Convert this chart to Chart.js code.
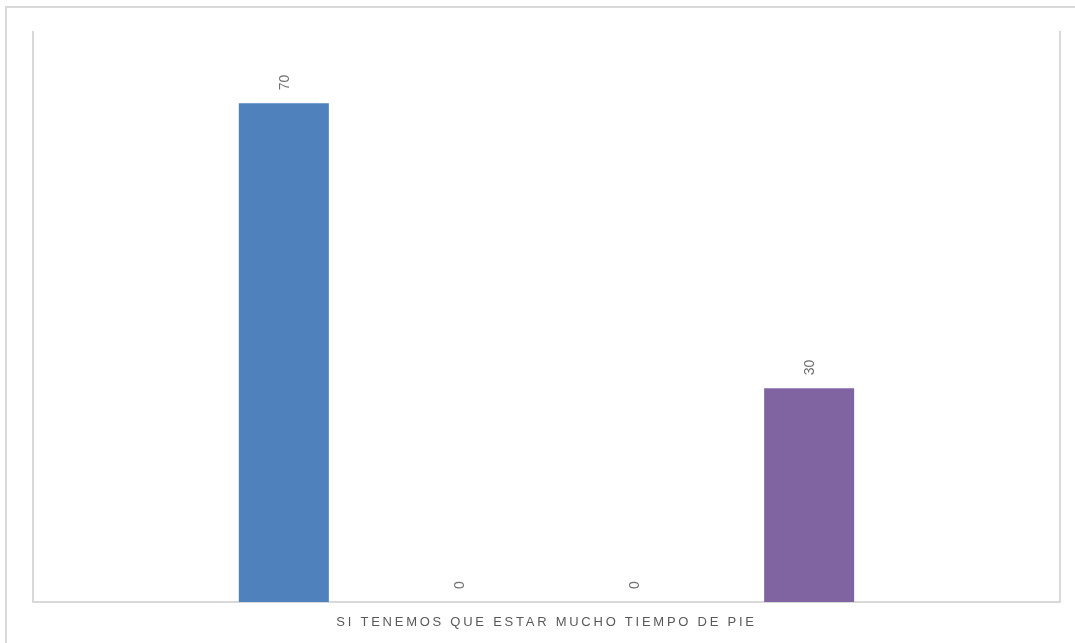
<!DOCTYPE html>
<html>
<head>
<meta charset="utf-8">
<script src="https://cdn.jsdelivr.net/npm/chart.js@4/dist/chart.umd.min.js"></script>
<style>
  html, body { margin: 0; padding: 0; background: #fff; overflow: hidden; }
  #frame { position: absolute; left: 5px; top: 6px; width: 1090px; height: 660px; border: 2px solid #d9d9d9; box-sizing: border-box; }
  #wrap { position: absolute; left: 0; top: 0; width: 1075px; height: 643px; }
</style>
</head>
<body>
<div id="frame"></div>
<div id="wrap"><canvas id="c" width="1075" height="643"></canvas></div>
<script>
const categories = ['SI TENEMOS QUE ESTAR MUCHO TIEMPO DE PIE'];
const seriesNames = ['Serie 1', 'Serie 2', 'Serie 3', 'Serie 4'];
const seriesValues = [[70], [0], [0], [30]];
const seriesColors = ['#4f81bd', '#c0504d', '#9bbb59', '#8064a2'];

// rotated value labels above each bar
const valueLabels = {
  id: 'valueLabels',
  afterDatasetsDraw(chart) {
    const ctx = chart.ctx;
    ctx.save();
    ctx.font = '14px "Liberation Sans", Arial, sans-serif';
    ctx.fillStyle = '#707070';
    ctx.textAlign = 'left';
    ctx.textBaseline = 'middle';
    chart.data.datasets.forEach((ds, i) => {
      chart.getDatasetMeta(i).data.forEach((bar, j) => {
        ctx.save();
        ctx.translate(bar.x + 1, bar.y - 13);
        ctx.rotate(-Math.PI / 2);
        ctx.fillText(String(ds.data[j]), 0, 0);
        ctx.restore();
      });
    });
    ctx.restore();
  }
};

// spaced-out category label
const spacing = {
  id: 'spacing',
  beforeDraw(chart) { chart.ctx.letterSpacing = '2.75px'; },
  beforeDatasetsDraw(chart) { chart.ctx.letterSpacing = '0px'; }
};

const sideAxis = (pos) => ({
  position: pos,
  min: 0,
  max: 80,
  ticks: { display: false },
  grid: { display: false, drawTicks: false },
  border: { display: true, color: '#d9d9d9', width: 2 },
  afterFit(scale) { scale.width = 0; }
});

new Chart(document.getElementById('c'), {
  type: 'bar',
  data: {
    labels: categories,
    datasets: seriesNames.map((name, i) => ({
      label: name,
      data: seriesValues[i],
      backgroundColor: seriesColors[i],
      yAxisID: 'y',
      categoryPercentage: 0.682,
      barPercentage: 0.514
    }))
  },
  options: {
    responsive: false,
    animation: false,
    layout: { padding: { left: 33, right: 15, top: 32, bottom: 0 } },
    plugins: { legend: { display: false }, tooltip: { enabled: false } },
    scales: {
      x: {
        ticks: {
          color: '#595959',
          font: { size: 13, family: '"Liberation Sans", Arial, sans-serif' },
          padding: 13
        },
        grid: { display: false, drawTicks: false },
        border: { display: true, color: '#d9d9d9', width: 2 },
        afterFit(scale) { scale.height = 41; }
      },
      y: sideAxis('left'),
      y2: sideAxis('right')
    }
  },
  plugins: [valueLabels, spacing]
});
</script>
</body>
</html>
